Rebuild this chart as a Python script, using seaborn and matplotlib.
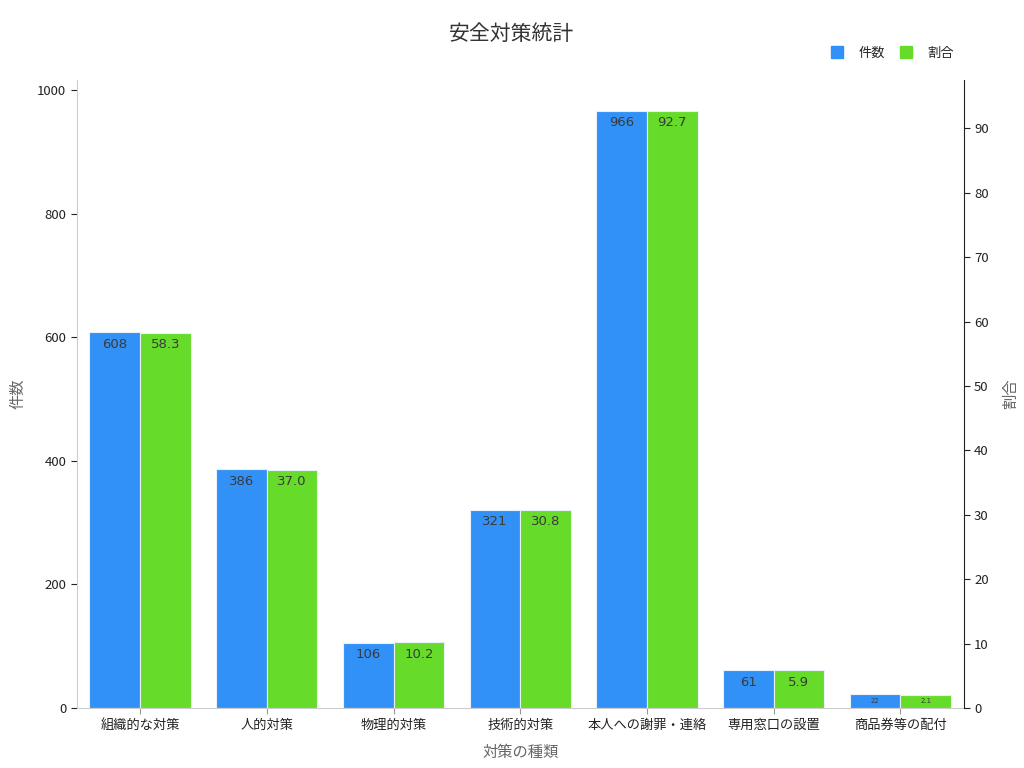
import numpy as np
import pandas as pd
import seaborn as sns
import matplotlib.pyplot as plt

# Data
categories = ['組織的な対策', '人的対策', '物理的対策', '技術的対策',
              '本人への謝罪・連絡', '専用窓口の設置', '商品券等の配付']
counts = [608, 386, 106, 321, 966, 61, 22]
ratios = [58.3, 37.0, 10.2, 30.8, 92.7, 5.9, 2.1]

series = ['件数', '割合']
colors = {'件数': '#3291f6', '割合': '#66db29'}

df = pd.DataFrame({
    'category': categories * 2,
    'series': ['件数'] * len(categories) + ['割合'] * len(categories),
    'value': counts + ratios,
})
# one frame per axis, the other series blanked so dodging keeps both slots
df_count = df.assign(value=df['value'].where(df['series'] == '件数', np.nan))
df_ratio = df.assign(value=df['value'].where(df['series'] == '割合', np.nan))

sns.set_style('white')
plt.rcParams['font.family'] = ['Noto Sans CJK JP', 'DejaVu Sans']

fig, ax1 = plt.subplots(figsize=(10.24, 7.68), dpi=100)
ax2 = ax1.twinx()

for ax, data in [(ax1, df_count), (ax2, df_ratio)]:
    sns.barplot(data=data, x='category', y='value', hue='series',
                hue_order=series, palette=colors, order=categories, width=0.8,
                saturation=1, edgecolor='#e8f0fa', linewidth=0.8, ax=ax,
                errorbar=None, legend=False)

ax1.set_xlim(-0.5, len(categories) - 0.5)
ax1.set_ylim(0, max(counts) * 1.052)
ax2.set_ylim(0, max(ratios) * 1.052)
ax1.set_yticks(range(0, 1001, 200))
ax2.set_yticks(range(0, 91, 10))

# Value labels inside the bar tops
for ax, vals, fmt in [(ax1, counts, '{:.0f}'), (ax2, ratios, '{:.1f}')]:
    for cont in ax.containers:
        for bar in cont:
            h = bar.get_height()
            if not np.isfinite(h):
                continue
            sm = h < 0.03 * max(vals)
            ax.annotate(fmt.format(h), (bar.get_x() + bar.get_width() / 2, h),
                        xytext=(0, -2.5 if sm else -4), textcoords='offset points',
                        ha='center', va='top', fontsize=5 if sm else 9.5,
                        color='#3a3a3a', family=['DejaVu Sans'])

ax1.set_xlabel('対策の種類', fontsize=11, color='#666666', labelpad=9)
ax1.set_ylabel('件数', fontsize=11, color='#666666', labelpad=8)
ax2.set_ylabel('割合', fontsize=11, color='#666666', labelpad=10)
ax1.tick_params(axis='x', labelsize=9.5, length=4, bottom=True, color='#999999', labelcolor='#222222')
ax1.tick_params(axis='y', labelsize=9.5, length=4, left=True, color='#222222', labelcolor='#222222')
ax2.tick_params(axis='y', labelsize=9.5, length=4, right=True, color='#222222', labelcolor='#222222')

for ax in (ax1, ax2):
    ax.spines['top'].set_visible(False)
ax1.spines['left'].set_color('#cccccc')
ax1.spines['bottom'].set_color('#cccccc')
ax1.spines['right'].set_visible(False)
ax2.spines['left'].set_visible(False)
ax2.spines['bottom'].set_visible(False)
ax2.spines['right'].set_color('#222222')

# Legend above the plot, top right
handles = [plt.Line2D([], [], marker='s', linestyle='', markersize=8.5,
                      color=colors[s]) for s in series]
fig.legend(handles, series, loc='center right', bbox_to_anchor=(0.943, 0.931),
           ncol=2, frameon=False, fontsize=9.5, handlelength=1.2,
           handletextpad=1.0, columnspacing=1.0)

fig.suptitle('安全対策統計', fontsize=15, color='#333333', y=0.970)
fig.subplots_adjust(left=0.075, right=0.941, top=0.896, bottom=0.078)

plt.savefig('out.png', dpi=100)
